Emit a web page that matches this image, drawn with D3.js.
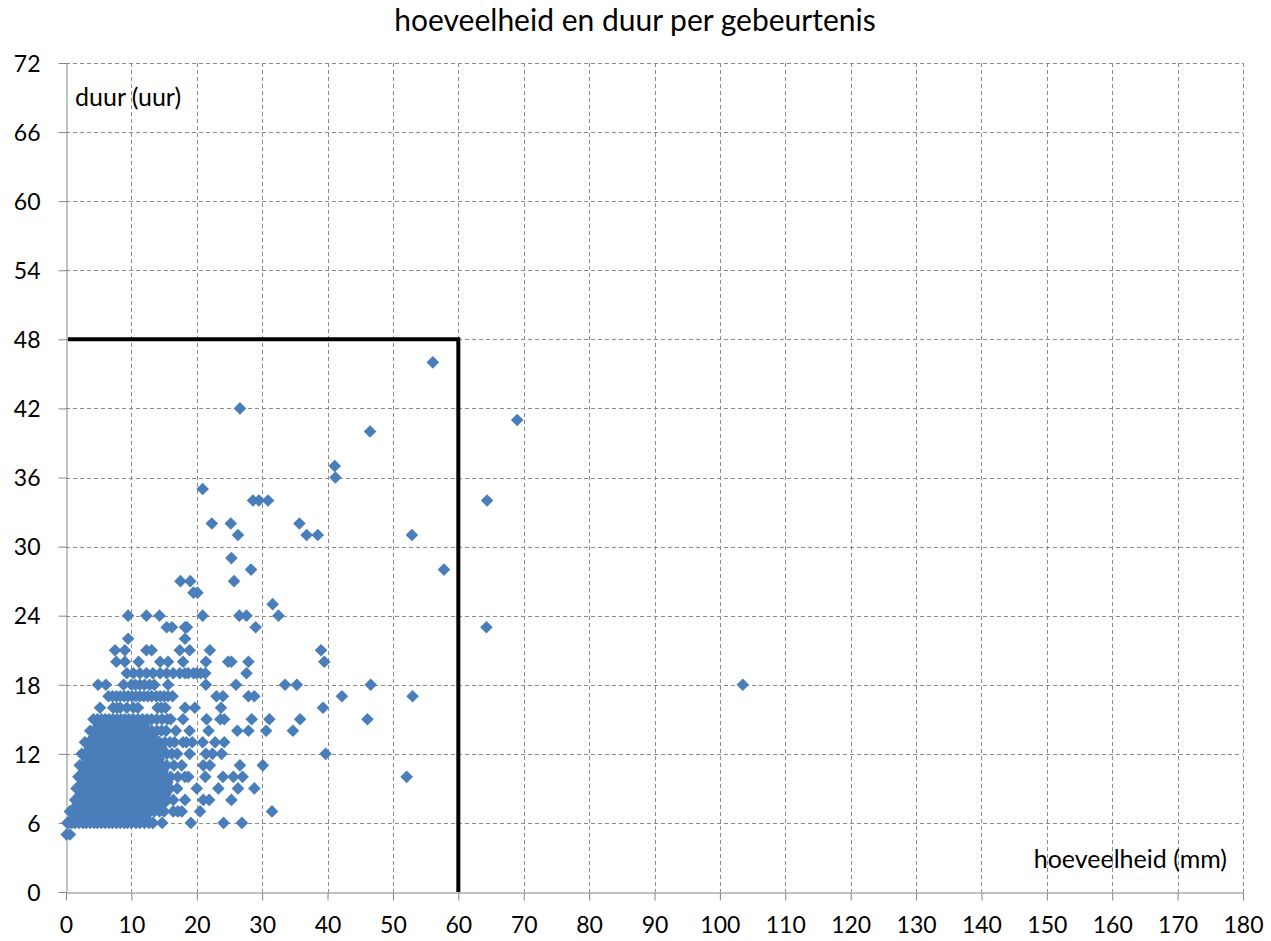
<!DOCTYPE html>
<html>
<head>
    <meta charset="utf-8" />
    <title>hoeveelheid en duur per gebeurtenis</title>
    <style>
        body { margin: 0; background: #fff; }
        text { font-family: Lato, "Open Sans", sans-serif; fill: #000; }
    </style>
</head>
<body>
<script src="https://d3js.org/d3.v7.min.js"></script>
<script>
    // hoeveelheid (mm) per gebeurtenis, grouped by duur (uur)
    var duur5  = [0.1, 0.6];
    var duur6  = [0.2, 0.5, 0.9, 1.4, 2.0, 2.6, 3.1, 3.7, 4.3, 4.8, 5.4, 6.0, 6.6, 7.1, 7.7, 8.3, 8.9, 9.4, 10.0, 10.7, 11.3, 12.0, 12.7, 13.3, 14.7, 19.1, 24.1, 26.9];
    var duur6h = [1.2, 2.3, 3.4, 4.5, 5.6, 6.7, 7.8, 8.9, 10.0, 11.1, 12.2];
    var duur7  = [0.6, 1.0, 1.5, 2.1, 2.7, 3.2, 3.8, 4.4, 4.9, 5.5, 6.1, 6.7, 7.2, 7.8, 8.4, 9.0, 9.6, 10.2, 10.8, 11.4, 12.1, 12.8, 13.5, 14.3, 15.0, 16.4, 17.1, 17.7, 20.5, 31.5];
    var duur7h = [1.6, 2.6, 3.6, 4.6, 5.6, 6.6, 7.6, 8.6, 9.6, 10.6, 11.6, 12.6, 13.6, 14.6];
    var duur8  = [1.4, 1.9, 2.5, 3.0, 3.6, 4.2, 4.8, 5.3, 5.9, 6.5, 7.0, 7.6, 8.2, 8.8, 9.3, 9.9, 10.5, 11.1, 11.7, 12.4, 13.1, 13.9, 14.6, 15.5, 16.4, 18.2, 21.0, 21.9, 25.3];
    var duur8h = [2.2, 3.2, 4.2, 5.2, 6.2, 7.2, 8.2, 9.2, 10.2, 11.2, 12.2, 13.2, 14.2, 15.2];
    var duur9  = [1.6, 2.2, 2.8, 3.3, 3.9, 4.5, 5.0, 5.6, 6.2, 6.8, 7.3, 7.9, 8.5, 9.1, 9.7, 10.3, 10.9, 11.5, 12.1, 12.8, 13.5, 14.3, 15.0, 15.9, 17.0, 20.0, 23.3, 26.3, 28.8];
    var duur9h = [2.5, 3.5, 4.5, 5.5, 6.5, 7.5, 8.5, 9.5, 10.5, 11.5, 12.5, 13.5, 14.5, 15.5];
    var duur10 = [1.9, 2.4, 3.0, 3.6, 4.1, 4.7, 5.3, 5.9, 6.4, 7.0, 7.6, 8.2, 8.8, 9.4, 10.0, 10.6, 11.2, 11.9, 12.5, 13.2, 13.9, 14.6, 15.3, 16.0, 17.1, 18.2, 18.7, 21.3, 24.0, 25.6, 27.0, 52.1];
    var duur10h = [2.8, 3.8, 4.8, 5.8, 6.8, 7.8, 8.8, 9.8, 10.8, 11.8, 12.8, 13.8, 14.8];
    var duur11 = [2.1, 2.7, 3.3, 3.9, 4.4, 5.0, 5.6, 6.2, 6.8, 7.4, 8.0, 8.6, 9.2, 9.8, 10.4, 11.0, 11.7, 12.4, 13.1, 13.8, 14.6, 15.4, 16.5, 17.7, 21.0, 22.0, 26.6, 30.1];
    var duur11h = [3.2, 4.2, 5.2, 6.2, 7.2, 8.2, 9.2, 10.2, 11.2, 12.2, 13.2, 14.2];
    var duur12 = [2.4, 3.0, 3.6, 4.2, 4.8, 5.4, 6.0, 6.6, 7.2, 7.8, 8.4, 9.0, 9.6, 10.2, 10.9, 11.6, 12.3, 13.0, 13.8, 14.6, 15.4, 16.2, 17.0, 18.9, 21.4, 22.4, 23.8, 39.7];
    var duur12h = [3.6, 4.6, 5.6, 6.6, 7.6, 8.6, 9.6, 10.6, 11.6, 12.6, 13.6, 14.6];
    var duur13 = [2.9, 3.5, 4.1, 4.7, 5.3, 5.9, 6.5, 7.1, 7.7, 8.3, 8.9, 9.5, 10.1, 10.7, 11.4, 12.1, 12.8, 13.5, 14.3, 15.1, 15.9, 16.6, 17.9, 18.4, 19.3, 20.9, 22.8, 24.2];
    var duur13h = [4.3, 5.3, 6.3, 7.3, 8.3, 9.3, 10.3, 11.3, 12.3, 13.3];
    var duur14 = [3.7, 4.3, 4.9, 5.5, 6.1, 6.7, 7.3, 7.9, 8.5, 9.1, 9.7, 10.3, 11.0, 11.7, 12.4, 13.1, 13.9, 14.6, 15.3, 16.8, 18.9, 21.8, 26.2, 27.9, 30.6, 34.7];
    var duur14h = [5.0, 6.0, 7.0, 8.0, 9.0, 10.0, 11.0, 12.0];
    var duur15 = [4.2, 4.8, 5.4, 6.0, 6.6, 7.2, 7.8, 8.4, 9.0, 9.6, 10.3, 11.0, 11.7, 12.4, 13.1, 13.9, 14.7, 15.5, 16.0, 17.9, 21.5, 23.6, 24.2, 28.4, 31.1, 35.8, 46.1];
    var duur16 = [5.2, 7.2, 7.8, 8.3, 9.3, 10.3, 11.0, 14.0, 14.6, 15.2, 18.2, 19.7, 23.7, 39.3];
    var duur17 = [6.5, 7.1, 7.7, 8.3, 8.9, 9.5, 10.1, 10.7, 11.3, 11.9, 12.5, 13.1, 13.8, 14.4, 15.0, 15.6, 16.3, 23.0, 24.0, 27.9, 28.8, 42.2, 53.0];
    var duur18 = [4.9, 6.1, 8.8, 10.0, 10.6, 11.3, 12.0, 12.8, 13.5, 15.6, 21.4, 26.0, 33.5, 35.3, 46.6, 103.5];
    var duur19 = [9.3, 10.3, 11.3, 12.3, 13.3, 14.4, 15.4, 16.4, 17.4, 18.2, 18.7, 19.5, 20.0, 20.6, 21.3, 27.6];
    var duur20 = [7.7, 9.0, 11.1, 14.4, 15.6, 17.9, 21.4, 24.8, 25.3, 27.9, 39.5];
    var duur21 = [7.5, 9.0, 12.3, 13.1, 17.4, 18.9, 22.0, 39.0];
    var duur22 = [9.5, 18.2];
    var duur23 = [15.4, 16.2, 18.2, 18.5, 29.0, 64.3];
    var duur24 = [9.5, 12.3, 14.3, 20.9, 26.5, 27.6, 32.5];
    var duur25 = [31.6];
    var duur26 = [19.5, 20.1];
    var duur27 = [17.5, 19.0, 25.7];
    var duur28 = [28.3, 57.8];
    var duur29 = [25.3];
    var duur31 = [26.3, 36.8, 38.5, 52.9];
    var duur32 = [22.3, 25.2, 35.7];
    var duur34 = [28.6, 29.5, 30.9, 64.4];
    var duur35 = [20.9];
    var duur36 = [41.2];
    var duur37 = [41.1];
    var duur40 = [46.5];
    var duur41 = [69.0];
    var duur42 = [26.6];
    var duur46 = [56.1];

    var groups = [
        [5, duur5], [6, duur6], [6.5, duur6h], [7, duur7], [7.5, duur7h], [8, duur8], [8.5, duur8h],
        [9, duur9], [9.5, duur9h], [10, duur10], [10.5, duur10h], [11, duur11], [11.5, duur11h],
        [12, duur12], [12.5, duur12h], [13, duur13], [13.5, duur13h], [14, duur14], [14.5, duur14h],
        [15, duur15], [16, duur16], [17, duur17], [18, duur18], [19, duur19], [20, duur20], [21, duur21],
        [22, duur22], [23, duur23], [24, duur24], [25, duur25], [26, duur26], [27, duur27],
        [28, duur28], [29, duur29], [31, duur31], [32, duur32], [34, duur34], [35, duur35],
        [36, duur36], [37, duur37], [40, duur40], [41, duur41], [42, duur42], [46, duur46]
    ];

    // threshold frame: 60 mm / 48 uur
    var frameLine = [[0, 48], [60, 48], [60, 0]];

    var xTicks = d3.range(0, 181, 10);
    var yTicks = d3.range(0, 73, 6);

    var points = [];
    groups.forEach(function(g) {
        g[1].forEach(function(v) { points.push([v, g[0]]); });
    });

    var width = 1271;
    var height = 941;
    var margin = {"left":66, "right":28, "top":63, "bottom":49};

    var svg = d3.select("body").append("svg")
                .attr("width", width)
                .attr("height", height);

    var x = d3.scaleLinear().domain([0, 180]).range([margin.left, width - margin.right]);
    var y = d3.scaleLinear().domain([0, 72]).range([height - margin.bottom, margin.top]);

    // gridlines
    var grid = svg.append("g")
                  .attr("stroke", "#8c8c8c")
                  .attr("stroke-width", 1)
                  .attr("stroke-dasharray", "4,3");

    grid.selectAll("line.v")
        .data(xTicks.filter(d => d > 0))
        .enter().append("line")
        .attr("x1", d => Math.round(x(d)) + 0.5)
        .attr("x2", d => Math.round(x(d)) + 0.5)
        .attr("y1", y(72))
        .attr("y2", y(0));

    grid.selectAll("line.h")
        .data(yTicks.filter(d => d > 0))
        .enter().append("line")
        .attr("x1", x(0))
        .attr("x2", x(180))
        .attr("y1", d => Math.round(y(d)) + 0.5)
        .attr("y2", d => Math.round(y(d)) + 0.5);

    // axes
    var xAxis = svg.append("g")
                   .attr("transform", "translate(0," + (Math.round(y(0)) + 0.5) + ")")
                   .call(d3.axisBottom(x).tickValues(xTicks).tickSize(8).tickSizeOuter(0).tickPadding(16));
    var yAxis = svg.append("g")
                   .attr("transform", "translate(" + (Math.round(x(0)) + 0.5) + ",0)")
                   .call(d3.axisLeft(y).tickValues(yTicks).tickSize(8).tickSizeOuter(0).tickPadding(18));

    [xAxis, yAxis].forEach(function(a) {
        a.select(".domain").attr("stroke", "#868686");
        a.selectAll(".tick line").attr("stroke", "#868686");
        a.selectAll(".tick text")
         .style("font-family", "Lato, sans-serif")
         .style("font-size", "23px")
         .attr("fill", "#000");
    });
    xAxis.selectAll(".tick text").attr("dy", "0.71em");
    yAxis.selectAll(".tick text").attr("dy", "0.36em");

    // frame
    svg.append("path")
       .datum(frameLine)
       .attr("fill", "none")
       .attr("stroke", "#000")
       .attr("stroke-width", 4)
       .attr("d", d3.line().x(d => x(d[0]) + (d[0] === 0 ? 2 : 0)).y(d => y(d[1])));

    // points
    svg.append("g")
       .selectAll("path")
       .data(points)
       .enter().append("path")
       .attr("transform", d => "translate(" + x(d[0]) + "," + y(d[1]) + ")")
       .attr("d", "M0,-6.3L6.3,0L0,6.3L-6.3,0Z")
       .attr("fill", "#4a7ebb");

    // labels
    svg.append("text")
       .attr("x", 635)
       .attr("y", 31)
       .attr("text-anchor", "middle")
       .style("font-size", "30px")
       .text("hoeveelheid en duur per gebeurtenis");

    svg.append("text")
       .attr("x", 75)
       .attr("y", 106)
       .style("font-size", "25px")
       .text("duur (uur)");

    svg.append("text")
       .attr("x", 1227)
       .attr("y", 868)
       .attr("text-anchor", "end")
       .style("font-size", "25px")
       .text("hoeveelheid (mm)");
</script>
</body>
</html>
